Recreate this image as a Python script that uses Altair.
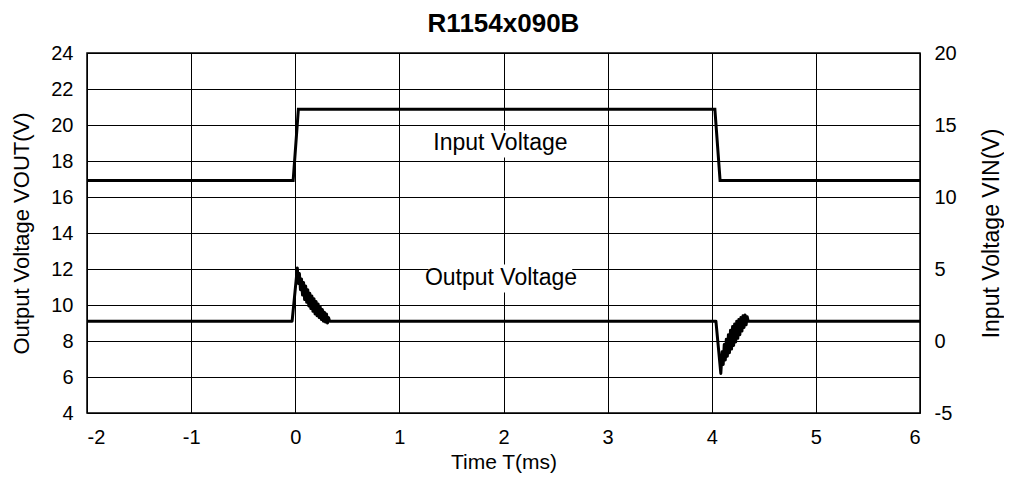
import altair as alt
import pandas as pd

# ---- data ----
out_t = [-2.0, -0.03, 0.02, 0.03, 0.04, 0.05, 0.06, 0.07, 0.08, 0.09, 0.10, 0.11, 0.12,
         0.13, 0.14, 0.15, 0.16, 0.17, 0.18, 0.19, 0.20, 0.21, 0.22, 0.23, 0.24, 0.25,
         0.26, 0.27, 0.28, 0.29, 0.30, 0.31, 0.32, 0.33,
         4.04, 4.087, 4.10, 4.11, 4.12, 4.13, 4.14, 4.15, 4.16, 4.17, 4.18, 4.19, 4.20,
         4.21, 4.22, 4.23, 4.24, 4.25, 4.26, 4.27, 4.28, 4.29, 4.30, 4.31, 4.32, 4.33,
         4.34, 4.35, 6.0]
out_v = [9.1, 9.1, 12.05, 11.2, 11.75, 10.85, 11.45, 10.55, 11.25, 10.3, 11.05, 10.15, 10.85,
         9.95, 10.65, 9.8, 10.5, 9.65, 10.35, 9.5, 10.2, 9.4, 10.05, 9.3, 9.9, 9.2,
         9.75, 9.1, 9.6, 9.05, 9.5, 9.0, 9.3, 9.1,
         9.1, 6.2, 7.4, 6.7, 7.8, 6.95, 8.1, 7.15, 8.35, 7.35, 8.6, 7.55, 8.8,
         7.75, 8.95, 7.95, 9.1, 8.15, 9.2, 8.35, 9.3, 8.55, 9.4, 8.75, 9.45, 8.9,
         9.35, 9.1, 9.1]

in_t = [-2.0, -0.02, 0.03, 4.03, 4.08, 6.0]
in_v = [11.15, 11.15, 16.1, 16.1, 11.15, 11.15]

label_text = ["Input Voltage", "Output Voltage"]
label_t = [1.97, 1.976]
label_v = [18.61, 11.11]
box_t1 = [1.30, 1.28]
box_t2 = [2.62, 2.66]
box_v1 = [18.2, 10.7]
box_v2 = [19.7, 12.25]

x_ticks = [-2, -1, 0, 1, 2, 3, 4, 5, 6]
left_ticks = [4, 6, 8, 10, 12, 14, 16, 18, 20, 22, 24]
right_ticks = [-5, 0, 5, 10, 15, 20]

FONT = "Liberation Sans"

out_df = pd.DataFrame({"t": out_t, "v": out_v, "i": range(len(out_t))})
in_df = pd.DataFrame({"t": in_t, "v": in_v, "i": range(len(in_t))})
lab_df = pd.DataFrame({"txt": label_text, "t": label_t, "v": label_v,
                       "t1": box_t1, "t2": box_t2, "v1": box_v1, "v2": box_v2})

x_enc = alt.X("t:Q", scale=alt.Scale(domain=[-2, 6], nice=False),
              axis=alt.Axis(values=x_ticks, title="Time T(ms)", grid=True,
                            labelExpr="'' + datum.value"))
left_axis = alt.Axis(values=left_ticks, title="Output Voltage VOUT(V)", grid=True,
                     labelExpr="'' + datum.value", orient="left")
left_scale = alt.Scale(domain=[4, 24], nice=False)

out_line = alt.Chart(out_df).mark_line(color="black", strokeWidth=3, strokeJoin="round").encode(
    x=x_enc,
    y=alt.Y("v:Q", scale=left_scale, axis=left_axis),
    order="i:Q",
)
boxes = alt.Chart(lab_df).mark_rect(color="white").encode(
    x="t1:Q", x2="t2:Q",
    y=alt.Y("v1:Q", scale=left_scale, axis=left_axis), y2="v2:Q",
)
texts = alt.Chart(lab_df).mark_text(font=FONT, fontSize=23, color="black",
                                    align="center", baseline="alphabetic").encode(
    x="t:Q",
    y=alt.Y("v:Q", scale=left_scale, axis=left_axis),
    text="txt:N",
)
left_layer = alt.layer(boxes, texts, out_line)

in_line = alt.Chart(in_df).mark_line(color="black", strokeWidth=3).encode(
    x=x_enc,
    y=alt.Y("v:Q", scale=alt.Scale(domain=[-5, 20], nice=False),
            axis=alt.Axis(values=right_ticks, title="Input Voltage VIN(V)", grid=False,
                          orient="right", labelExpr="'' + datum.value",
                          titleAngle=270, titlePadding=47, titleFontSize=23)),
    order="i:Q",
)

chart = alt.layer(left_layer, in_line).resolve_scale(y="independent").properties(
    width=833, height=360,
    title=alt.TitleParams("R1154x090B", font=FONT, fontSize=26, fontWeight="bold",
                          color="black", anchor="middle", offset=6),
    padding={"left": 79, "top": 45, "right": 84, "bottom": 62},
    autosize=alt.AutoSizeParams(type="none"),
).configure_view(stroke="black", strokeWidth=1.5).configure_axis(
    labelFont=FONT, titleFont=FONT, labelFontSize=20, titleFontSize=22,
    labelColor="black", titleColor="black", titleFontWeight="normal",
    ticks=False, domain=False, labelPadding=14, gridColor="black", gridOpacity=1,
    gridWidth=1,
).configure_axisX(titlePadding=4, titleFontSize=21).configure_axisLeft(titlePadding=17)

chart.save("out.html", embed_options={"renderer": "svg", "actions": False})
